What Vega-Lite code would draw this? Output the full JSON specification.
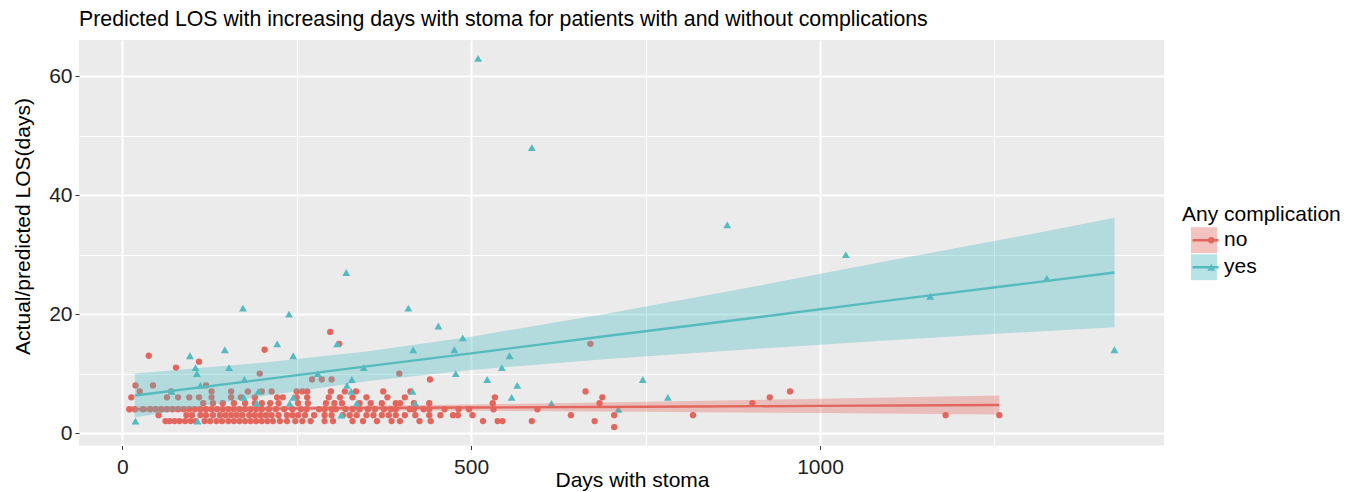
{
"$schema": "https://vega.github.io/schema/vega-lite/v6.json",
"width": 1085, "height": 405.5,
"autosize": {"type": "none"},
"padding": {"left": 79, "top": 40, "right": 193, "bottom": 46.5},
"background": "white",
"title": {"text": "Predicted LOS with increasing days with stoma for patients with and without complications", "anchor": "start", "frame": "group", "fontSize": 21.3, "fontWeight": "normal", "color": "#000000", "offset": 10},
"config": {
  "font": "Liberation Sans",
  "view": {"fill": "#EBEBEB", "stroke": null},
  "axis": {"domain": false, "grid": true, "gridColor": "#FFFFFF", "tickColor": "#333333", "tickSize": 4, "tickWidth": 1, "labelFontSize": 21, "labelColor": "#222222", "titleFontSize": 21, "titleFontWeight": "normal", "titleColor": "#000000"},
  "legend": {"padding": 0, "titleFontSize": 21, "titleFontWeight": "normal", "labelFontSize": 21, "rowPadding": 0, "titlePadding": 2, "clipHeight": 26.5}
},
"datasets": {
"pts": [
{"d":705,"los":1,"c":"no"},
{"d":62,"los":2,"c":"no"},{"d":68,"los":2,"c":"no"},{"d":75,"los":2,"c":"no"},{"d":82,"los":2,"c":"no"},{"d":90,"los":2,"c":"no"},{"d":98,"los":2,"c":"no"},{"d":105,"los":2,"c":"no"},{"d":118,"los":2,"c":"no"},{"d":126,"los":2,"c":"no"},{"d":135,"los":2,"c":"no"},{"d":143,"los":2,"c":"no"},{"d":152,"los":2,"c":"no"},{"d":160,"los":2,"c":"no"},{"d":168,"los":2,"c":"no"},{"d":176,"los":2,"c":"no"},{"d":184,"los":2,"c":"no"},{"d":192,"los":2,"c":"no"},{"d":200,"los":2,"c":"no"},{"d":208,"los":2,"c":"no"},{"d":216,"los":2,"c":"no"},{"d":226,"los":2,"c":"no"},{"d":236,"los":2,"c":"no"},{"d":248,"los":2,"c":"no"},{"d":258,"los":2,"c":"no"},{"d":270,"los":2,"c":"no"},{"d":290,"los":2,"c":"no"},{"d":302,"los":2,"c":"no"},{"d":330,"los":2,"c":"no"},{"d":345,"los":2,"c":"no"},{"d":365,"los":2,"c":"no"},{"d":386,"los":2,"c":"no"},{"d":398,"los":2,"c":"no"},{"d":426,"los":2,"c":"no"},{"d":442,"los":2,"c":"no"},{"d":517,"los":2,"c":"no"},{"d":538,"los":2,"c":"no"},{"d":545,"los":2,"c":"no"},{"d":587,"los":2,"c":"no"},{"d":677,"los":2,"c":"no"},
{"d":52,"los":3,"c":"no"},{"d":92,"los":3,"c":"no"},{"d":100,"los":3,"c":"no"},{"d":112,"los":3,"c":"no"},{"d":120,"los":3,"c":"no"},{"d":130,"los":3,"c":"no"},{"d":140,"los":3,"c":"no"},{"d":148,"los":3,"c":"no"},{"d":156,"los":3,"c":"no"},{"d":164,"los":3,"c":"no"},{"d":172,"los":3,"c":"no"},{"d":182,"los":3,"c":"no"},{"d":190,"los":3,"c":"no"},{"d":198,"los":3,"c":"no"},{"d":206,"los":3,"c":"no"},{"d":214,"los":3,"c":"no"},{"d":224,"los":3,"c":"no"},{"d":236,"los":3,"c":"no"},{"d":244,"los":3,"c":"no"},{"d":252,"los":3,"c":"no"},{"d":262,"los":3,"c":"no"},{"d":275,"los":3,"c":"no"},{"d":290,"los":3,"c":"no"},{"d":300,"los":3,"c":"no"},{"d":316,"los":3,"c":"no"},{"d":326,"los":3,"c":"no"},{"d":336,"los":3,"c":"no"},{"d":350,"los":3,"c":"no"},{"d":360,"los":3,"c":"no"},{"d":372,"los":3,"c":"no"},{"d":382,"los":3,"c":"no"},{"d":392,"los":3,"c":"no"},{"d":405,"los":3,"c":"no"},{"d":420,"los":3,"c":"no"},{"d":440,"los":3,"c":"no"},{"d":456,"los":3,"c":"no"},{"d":474,"los":3,"c":"no"},{"d":481,"los":3,"c":"no"},{"d":502,"los":3,"c":"no"},{"d":643,"los":3,"c":"no"},{"d":705,"los":3,"c":"no"},{"d":818,"los":3,"c":"no"},{"d":1180,"los":3,"c":"no"},{"d":1257,"los":3,"c":"no"},
{"d":10,"los":4,"c":"no"},{"d":18,"los":4,"c":"no"},{"d":30,"los":4,"c":"no"},{"d":40,"los":4,"c":"no"},{"d":48,"los":4,"c":"no"},{"d":56,"los":4,"c":"no"},{"d":64,"los":4,"c":"no"},{"d":72,"los":4,"c":"no"},{"d":80,"los":4,"c":"no"},{"d":88,"los":4,"c":"no"},{"d":96,"los":4,"c":"no"},{"d":104,"los":4,"c":"no"},{"d":112,"los":4,"c":"no"},{"d":120,"los":4,"c":"no"},{"d":128,"los":4,"c":"no"},{"d":136,"los":4,"c":"no"},{"d":144,"los":4,"c":"no"},{"d":152,"los":4,"c":"no"},{"d":160,"los":4,"c":"no"},{"d":168,"los":4,"c":"no"},{"d":176,"los":4,"c":"no"},{"d":184,"los":4,"c":"no"},{"d":192,"los":4,"c":"no"},{"d":200,"los":4,"c":"no"},{"d":210,"los":4,"c":"no"},{"d":220,"los":4,"c":"no"},{"d":232,"los":4,"c":"no"},{"d":244,"los":4,"c":"no"},{"d":256,"los":4,"c":"no"},{"d":264,"los":4,"c":"no"},{"d":282,"los":4,"c":"no"},{"d":290,"los":4,"c":"no"},{"d":300,"los":4,"c":"no"},{"d":306,"los":4,"c":"no"},{"d":320,"los":4,"c":"no"},{"d":330,"los":4,"c":"no"},{"d":340,"los":4,"c":"no"},{"d":352,"los":4,"c":"no"},{"d":362,"los":4,"c":"no"},{"d":375,"los":4,"c":"no"},{"d":385,"los":4,"c":"no"},{"d":392,"los":4,"c":"no"},{"d":412,"los":4,"c":"no"},{"d":418,"los":4,"c":"no"},{"d":432,"los":4,"c":"no"},{"d":440,"los":4,"c":"no"},{"d":462,"los":4,"c":"no"},{"d":482,"los":4,"c":"no"},{"d":497,"los":4,"c":"no"},{"d":532,"los":4,"c":"no"},{"d":595,"los":4,"c":"no"},
{"d":116,"los":5,"c":"no"},{"d":130,"los":5,"c":"no"},{"d":144,"los":5,"c":"no"},{"d":160,"los":5,"c":"no"},{"d":176,"los":5,"c":"no"},{"d":190,"los":5,"c":"no"},{"d":200,"los":5,"c":"no"},{"d":212,"los":5,"c":"no"},{"d":224,"los":5,"c":"no"},{"d":252,"los":5,"c":"no"},{"d":266,"los":5,"c":"no"},{"d":292,"los":5,"c":"no"},{"d":304,"los":5,"c":"no"},{"d":315,"los":5,"c":"no"},{"d":340,"los":5,"c":"no"},{"d":356,"los":5,"c":"no"},{"d":372,"los":5,"c":"no"},{"d":392,"los":5,"c":"no"},{"d":398,"los":5,"c":"no"},{"d":418,"los":5,"c":"no"},{"d":440,"los":5,"c":"no"},{"d":531,"los":5,"c":"no"},{"d":684,"los":5,"c":"no"},{"d":903,"los":5,"c":"no"},
{"d":13,"los":6,"c":"no"},{"d":64,"los":6,"c":"no"},{"d":80,"los":6,"c":"no"},{"d":96,"los":6,"c":"no"},{"d":110,"los":6,"c":"no"},{"d":128,"los":6,"c":"no"},{"d":156,"los":6,"c":"no"},{"d":170,"los":6,"c":"no"},{"d":190,"los":6,"c":"no"},{"d":222,"los":6,"c":"no"},{"d":230,"los":6,"c":"no"},{"d":250,"los":6,"c":"no"},{"d":265,"los":6,"c":"no"},{"d":296,"los":6,"c":"no"},{"d":312,"los":6,"c":"no"},{"d":330,"los":6,"c":"no"},{"d":350,"los":6,"c":"no"},{"d":380,"los":6,"c":"no"},{"d":405,"los":6,"c":"no"},{"d":534,"los":6,"c":"no"},{"d":688,"los":6,"c":"no"},{"d":928,"los":6,"c":"no"},
{"d":25,"los":7,"c":"no"},{"d":70,"los":7,"c":"no"},{"d":128,"los":7,"c":"no"},{"d":156,"los":7,"c":"no"},{"d":180,"los":7,"c":"no"},{"d":200,"los":7,"c":"no"},{"d":214,"los":7,"c":"no"},{"d":250,"los":7,"c":"no"},{"d":258,"los":7,"c":"no"},{"d":265,"los":7,"c":"no"},{"d":299,"los":7,"c":"no"},{"d":319,"los":7,"c":"no"},{"d":335,"los":7,"c":"no"},{"d":374,"los":7,"c":"no"},{"d":413,"los":7,"c":"no"},{"d":664,"los":7,"c":"no"},{"d":957,"los":7,"c":"no"},
{"d":19,"los":8,"c":"no"},{"d":44,"los":8,"c":"no"},{"d":120,"los":8,"c":"no"},
{"d":272,"los":9,"c":"no"},{"d":286,"los":9,"c":"no"},{"d":300,"los":9,"c":"no"},{"d":441,"los":9,"c":"no"},
{"d":197,"los":10,"c":"no"},{"d":397,"los":10,"c":"no"},
{"d":77,"los":11,"c":"no"},{"d":110,"los":12,"c":"no"},{"d":38,"los":13,"c":"no"},{"d":204,"los":14,"c":"no"},{"d":311,"los":15,"c":"no"},{"d":671,"los":15,"c":"no"},{"d":298,"los":17,"c":"no"},
{"d":19,"los":2,"c":"yes"},{"d":108,"los":2,"c":"yes"},{"d":71,"los":7,"c":"yes"},{"d":112,"los":8,"c":"yes"},{"d":97,"los":13,"c":"yes"},{"d":147,"los":14,"c":"yes"},{"d":105,"los":11,"c":"yes"},{"d":107,"los":10,"c":"yes"},{"d":153,"los":11,"c":"yes"},{"d":222,"los":15,"c":"yes"},{"d":175,"los":9,"c":"yes"},{"d":195,"los":7,"c":"yes"},{"d":174,"los":6,"c":"yes"},{"d":193,"los":5,"c":"yes"},
{"d":245,"los":13,"c":"yes"},{"d":308,"los":15,"c":"yes"},{"d":417,"los":14,"c":"yes"},{"d":280,"los":10,"c":"yes"},{"d":346,"los":11,"c":"yes"},{"d":329,"los":9,"c":"yes"},{"d":322,"los":8,"c":"yes"},{"d":328,"los":7,"c":"yes"},{"d":416,"los":7,"c":"yes"},{"d":245,"los":6,"c":"yes"},{"d":240,"los":5,"c":"yes"},{"d":336,"los":5,"c":"yes"},{"d":420,"los":5,"c":"yes"},{"d":314,"los":3,"c":"yes"},
{"d":173,"los":21,"c":"yes"},{"d":239,"los":20,"c":"yes"},{"d":321,"los":27,"c":"yes"},{"d":410,"los":21,"c":"yes"},{"d":453,"los":18,"c":"yes"},{"d":488,"los":16,"c":"yes"},
{"d":476,"los":14,"c":"yes"},{"d":555,"los":13,"c":"yes"},{"d":478,"los":10,"c":"yes"},{"d":544,"los":11,"c":"yes"},{"d":523,"los":9,"c":"yes"},{"d":566,"los":8,"c":"yes"},{"d":558,"los":6,"c":"yes"},{"d":615,"los":5,"c":"yes"},{"d":711,"los":4,"c":"yes"},{"d":746,"los":9,"c":"yes"},{"d":782,"los":6,"c":"yes"},
{"d":510,"los":63,"c":"yes"},{"d":587,"los":48,"c":"yes"},{"d":867,"los":35,"c":"yes"},{"d":1037,"los":30,"c":"yes"},{"d":1158,"los":23,"c":"yes"},{"d":1325,"los":26,"c":"yes"},{"d":1422,"los":14,"c":"yes"}
],
"fits": [
{"d":9,"los":4.0,"lo":3.49,"hi":4.51,"c":"no","g":"no"},
{"d":250,"los":4.14,"lo":3.79,"hi":4.49,"c":"no","g":"no"},
{"d":500,"los":4.28,"lo":3.76,"hi":4.80,"c":"no","g":"no"},
{"d":750,"los":4.42,"lo":3.57,"hi":5.27,"c":"no","g":"no"},
{"d":1000,"los":4.56,"lo":3.35,"hi":5.77,"c":"no","g":"no"},
{"d":1257,"los":4.70,"lo":3.10,"hi":6.30,"c":"no","g":"no"},
{"d":18,"los":6.3,"lo":2.6,"hi":10.0,"c":"yes","g":"yes"},
{"d":200,"los":8.98,"lo":6.2,"hi":11.8,"c":"yes","g":"yes"},
{"d":350,"los":11.2,"lo":8.7,"hi":13.7,"c":"yes","g":"yes"},
{"d":500,"los":13.4,"lo":10.6,"hi":16.2,"c":"yes","g":"yes"},
{"d":700,"los":16.4,"lo":12.5,"hi":20.2,"c":"yes","g":"yes"},
{"d":900,"los":19.3,"lo":14.1,"hi":24.5,"c":"yes","g":"yes"},
{"d":1100,"los":22.3,"lo":15.6,"hi":29.0,"c":"yes","g":"yes"},
{"d":1300,"los":25.2,"lo":17.0,"hi":33.4,"c":"yes","g":"yes"},
{"d":1422,"los":27.0,"lo":17.8,"hi":36.2,"c":"yes","g":"yes"}
]
},
"encoding": {
  "x": {"field": "d", "type": "quantitative", "title": "Days with stoma",
    "scale": {"domain": [-62, 1493], "nice": false, "zero": false},
    "axis": {"values": [0, 250, 500, 750, 1000, 1250], "format": "d",
      "labelExpr": "datum.value % 500 === 0 ? datum.label : ''",
      "gridWidth": {"condition": {"test": "datum.value % 500 === 0", "value": 2}, "value": 1},
      "tickOpacity": {"condition": {"test": "datum.value % 500 === 0", "value": 1}, "value": 0},
      "labelPadding": 7, "titleX": 553, "titleY": 40.5, "titleBaseline": "alphabetic"}}
},
"layer": [
  {"data": {"name": "pts"},
   "mark": {"type": "point", "filled": true, "opacity": 1, "strokeWidth": 0},
   "encoding": {
     "y": {"field": "los", "type": "quantitative", "title": "Actual/predicted LOS(days)",
       "scale": {"domain": [-2.1, 66.1], "nice": false, "zero": false},
       "axis": {"values": [0, 10, 20, 30, 40, 50, 60], "format": "d",
         "labelExpr": "datum.value % 20 === 0 ? datum.label : ''",
         "gridWidth": {"condition": {"test": "datum.value % 20 === 0", "value": 2}, "value": 1},
         "tickOpacity": {"condition": {"test": "datum.value % 20 === 0", "value": 1}, "value": 0},
         "labelPadding": 3, "titleX": -49.5, "titleY": 186, "titleBaseline": "alphabetic"}},
     "size": {"field": "c", "type": "nominal", "scale": {"range": [40, 62]}, "legend": null},
     "color": {"field": "c", "type": "nominal", "scale": {"range": ["#E3665D", "#55BBBF"]},
       "legend": {"title": null, "orient": "none", "legendX": 1103, "legendY": 187, "symbolSize": 40, "symbolOffset": 18.8, "symbolOpacity": 1, "labelExpr": "''", "zindex": 3}},
     "shape": {"field": "c", "type": "nominal", "scale": {"range": ["circle", "triangle-up"]},
       "legend": {"title": null, "orient": "none", "legendX": 1103, "legendY": 187, "symbolSize": 40, "symbolOffset": 18.8, "symbolOpacity": 1, "labelExpr": "''", "zindex": 3}}
   }},
  {"data": {"name": "fits"}, "transform": [{"filter": "datum.c === 'no'"}],
   "mark": {"type": "area", "opacity": 0.35},
   "encoding": {
     "y": {"field": "lo", "type": "quantitative", "title": "Actual/predicted LOS(days)"},
     "y2": {"field": "hi"},
     "fill": {"field": "c", "type": "nominal", "scale": {"range": ["#E4675F", "#4BBAC2"]},
       "legend": {"title": "Any complication", "orient": "none", "legendX": 1103, "legendY": 164, "symbolType": "square", "symbolSize": 676, "symbolOpacity": 0.4, "symbolStrokeWidth": 0, "symbolOffset": 9, "labelOffset": 7, "titleColor": "#000000", "labelColor": "#000000", "zindex": 1}}
   }},
  {"data": {"name": "fits"}, "transform": [{"filter": "datum.c === 'no'"}],
   "mark": {"type": "line", "strokeWidth": 2.4},
   "encoding": {
     "y": {"field": "los", "type": "quantitative", "title": "Actual/predicted LOS(days)"},
     "stroke": {"field": "g", "type": "nominal", "scale": {"range": ["#E3665D", "#55BBBF"]},
       "legend": {"title": null, "orient": "none", "legendX": 1103, "legendY": 187, "symbolType": "stroke", "symbolSize": 676, "symbolStrokeWidth": 2.5, "symbolOpacity": 1, "symbolOffset": 9, "labelExpr": "''", "zindex": 2}}
   }},
  {"data": {"name": "fits"}, "transform": [{"filter": "datum.c === 'yes'"}],
   "mark": {"type": "area", "opacity": 0.35},
   "encoding": {
     "y": {"field": "lo", "type": "quantitative", "title": "Actual/predicted LOS(days)"},
     "y2": {"field": "hi"},
     "fill": {"field": "c", "type": "nominal", "scale": {"range": ["#E4675F", "#4BBAC2"]},
       "legend": {"title": "Any complication", "orient": "none", "legendX": 1103, "legendY": 164, "symbolType": "square", "symbolSize": 676, "symbolOpacity": 0.4, "symbolStrokeWidth": 0, "symbolOffset": 9, "labelOffset": 7, "titleColor": "#000000", "labelColor": "#000000", "zindex": 1}}
   }},
  {"data": {"name": "fits"}, "transform": [{"filter": "datum.c === 'yes'"}],
   "mark": {"type": "line", "strokeWidth": 2.4},
   "encoding": {
     "y": {"field": "los", "type": "quantitative", "title": "Actual/predicted LOS(days)"},
     "stroke": {"field": "g", "type": "nominal", "scale": {"range": ["#E3665D", "#55BBBF"]},
       "legend": {"title": null, "orient": "none", "legendX": 1103, "legendY": 187, "symbolType": "stroke", "symbolSize": 676, "symbolStrokeWidth": 2.5, "symbolOpacity": 1, "symbolOffset": 9, "labelExpr": "''", "zindex": 2}}
   }}
]
}
